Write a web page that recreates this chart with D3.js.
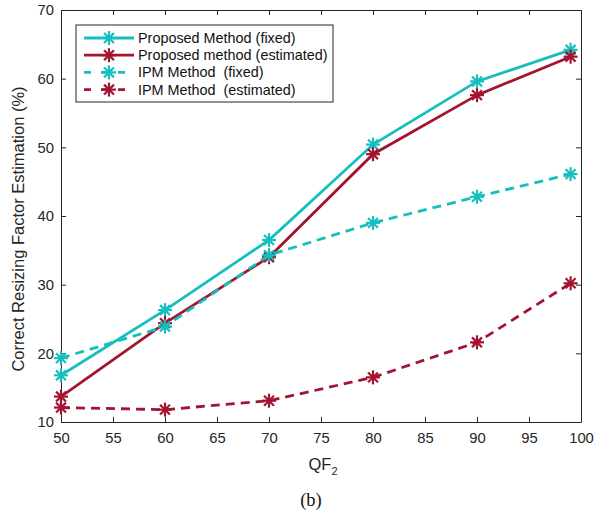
<!DOCTYPE html>
<html>
<head>
<meta charset="utf-8">
<script src="https://cdn.jsdelivr.net/npm/d3@7"></script>
<style>
  body { margin: 0; background: #fff; }
  text { font-family: "Liberation Sans", Arial, sans-serif; }
</style>
</head>
<body>
<svg width="604" height="517"></svg>
<script>
const qf = [50, 60, 70, 80, 90, 99];
const proposedFixed = [16.8, 26.3, 36.5, 50.4, 59.6, 64.2];
const proposedEstimated = [13.7, 24.4, 34.0, 49.0, 57.6, 63.2];
const ipmFixed = [19.3, 23.9, 34.3, 39.0, 42.8, 46.1];
const ipmEstimated = [12.1, 11.8, 13.1, 16.5, 21.6, 30.2];
const xTicks = [50, 55, 60, 65, 70, 75, 80, 85, 90, 95, 100];
const yTicks = [10, 20, 30, 40, 50, 60, 70];

const cyan = '#17bebe', red = '#a2142f';
const series = [
    { name: 'Proposed Method (fixed)', values: proposedFixed, color: cyan, dash: null },
    { name: 'Proposed method (estimated)', values: proposedEstimated, color: red, dash: null },
    { name: 'IPM Method  (fixed)', values: ipmFixed, color: cyan, dash: '9 6' },
    { name: 'IPM Method  (estimated)', values: ipmEstimated, color: red, dash: '9 6' }
];

const svg = d3.select('svg');
const mLeft = 61, mRight = 581, mTop = 10, mBottom = 422;
const x = d3.scaleLinear().domain([50, 100]).range([mLeft, mRight]);
const y = d3.scaleLinear().domain([10, 70]).range([mBottom, mTop]);

// axes
const axisColor = '#262626';
const gx = svg.append('g').attr('transform', `translate(0,${mBottom})`)
    .call(d3.axisBottom(x).tickValues(xTicks).tickSizeInner(-5).tickSizeOuter(0).tickPadding(10));
const gxt = svg.append('g').attr('transform', `translate(0,${mTop})`)
    .call(d3.axisTop(x).tickValues(xTicks).tickSizeInner(-5).tickSizeOuter(0).tickFormat(''));
const gy = svg.append('g').attr('transform', `translate(${mLeft},0)`)
    .call(d3.axisLeft(y).tickValues(yTicks).tickSizeInner(-5).tickSizeOuter(0).tickPadding(7));
const gyr = svg.append('g').attr('transform', `translate(${mRight},0)`)
    .call(d3.axisRight(y).tickValues(yTicks).tickSizeInner(-5).tickSizeOuter(0).tickFormat(''));
[gx, gxt, gy, gyr].forEach(g => {
    g.selectAll('path, line').attr('stroke', axisColor).attr('stroke-width', 1);
    g.selectAll('text').attr('fill', axisColor).style('font-size', '14.8px');
});

// lines
const line = d3.line().x((d, i) => x(qf[i])).y(d => y(d));
const asterisk = function (g, color) {
    const r = 7;
    [0, 45, 90, 135].forEach(a => {
        const rad = a * Math.PI / 180;
        g.append('line')
            .attr('x1', -r * Math.cos(rad)).attr('y1', -r * Math.sin(rad))
            .attr('x2', r * Math.cos(rad)).attr('y2', r * Math.sin(rad))
            .attr('stroke', color).attr('stroke-width', 2.2);
    });
};

series.forEach(s => {
    svg.append('path')
        .attr('d', line(s.values))
        .attr('fill', 'none')
        .attr('stroke', s.color)
        .attr('stroke-width', 2.8)
        .attr('stroke-dasharray', s.dash);
    s.values.forEach((v, i) => {
        const m = svg.append('g').attr('transform', `translate(${x(qf[i])},${y(v)})`);
        asterisk(m, s.color);
    });
});

// legend
const legend = svg.append('g');
legend.append('rect')
    .attr('x', 76).attr('y', 25).attr('width', 257).attr('height', 77)
    .attr('fill', '#fff').attr('stroke', axisColor).attr('stroke-width', 1);
series.forEach((s, i) => {
    const ly = 38 + i * 17.2;
    legend.append('line')
        .attr('x1', 84).attr('x2', 134).attr('y1', ly).attr('y2', ly)
        .attr('stroke', s.color).attr('stroke-width', 2.8)
        .attr('stroke-dasharray', s.dash ? '7 10' : null);
    asterisk(legend.append('g').attr('transform', `translate(109,${ly})`), s.color);
    legend.append('text')
        .attr('x', 138).attr('y', ly).attr('dy', '0.35em')
        .style('font-size', '14.4px').attr('fill', '#111')
        .style('white-space', 'pre')
        .text(s.name);
});

// axis titles
const xt = svg.append('text').attr('x', 323).attr('y', 470)
    .attr('text-anchor', 'middle').style('font-size', '16.5px').attr('fill', axisColor);
xt.append('tspan').text('QF');
xt.append('tspan').attr('dy', 5).style('font-size', '11px').text('2');

svg.append('text')
    .attr('transform', `translate(24,229) rotate(-90)`)
    .attr('text-anchor', 'middle').style('font-size', '16.5px').attr('fill', axisColor)
    .text('Correct Resizing Factor Estimation (%)');

svg.append('text').attr('x', 311).attr('y', 506)
    .attr('text-anchor', 'middle')
    .style('font-family', '"Liberation Serif", "Times New Roman", serif')
    .style('font-size', '18.5px').attr('fill', '#111')
    .text('(b)');
</script>
</body>
</html>
